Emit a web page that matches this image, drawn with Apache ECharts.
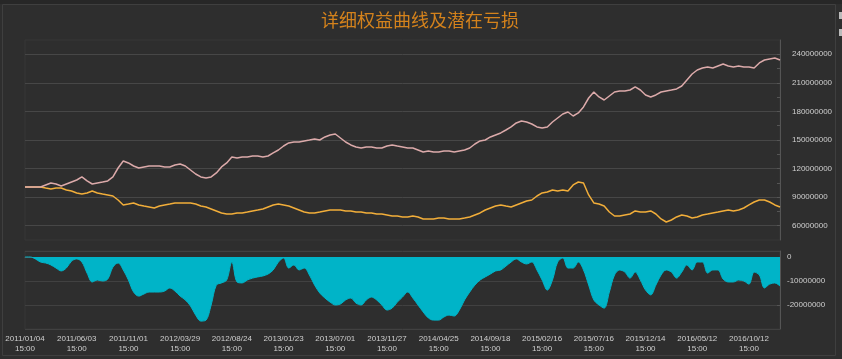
<!DOCTYPE html>
<html>
<head>
<meta charset="utf-8">
<script src="https://cdn.jsdelivr.net/npm/echarts@6/dist/echarts.min.js"></script>
<style>html,body{margin:0;padding:0;background:#2e2e2e;}#c{width:842px;height:359px;}</style>
</head>
<body>
<div id="c"></div>
<script>
// Labeled trading dates (every 10th sample point)
const labelDates = ['2011/01/04','2011/06/03','2011/11/01','2012/03/29','2012/08/24','2013/01/23','2013/07/01','2013/11/27','2014/04/25','2014/09/18','2015/02/16','2015/07/16','2015/12/14','2016/05/12','2016/10/12'];

// Equity (millions)
const equity = [
100.7,100.7,100.7,100.7,102.8,104.9,103.8,101.7,103.8,105.9,
108.0,111.2,107.0,103.8,104.9,105.9,107.0,111.2,120.6,128.0,
125.9,122.7,120.6,121.7,122.7,122.7,122.7,121.7,121.7,123.8,
124.8,122.7,118.5,114.3,111.2,110.1,111.2,115.4,121.7,125.9,
132.2,131.1,132.2,132.2,133.2,133.2,132.2,133.2,136.4,139.5,
143.7,146.9,147.9,147.9,149.0,150.0,151.1,150.0,153.2,155.3,
156.3,152.1,147.9,144.8,142.7,141.6,142.7,142.7,141.6,141.6,
143.7,144.8,143.7,142.7,141.6,141.6,139.5,137.4,138.5,137.4,
137.4,138.5,138.5,137.4,138.5,139.5,141.6,145.8,149.0,150.0,
153.2,155.3,157.4,160.5,163.7,167.9,170.0,168.9,166.8,163.7,
162.6,163.7,168.9,173.1,177.3,179.4,175.2,178.4,184.7,194.1,
200.4,195.2,192.0,196.2,200.4,201.5,201.5,202.5,205.7,202.5,
197.3,195.2,197.3,200.4,201.5,202.5,203.6,206.7,213.0,219.3,
223.5,225.6,226.7,225.6,227.7,229.8,227.7,226.7,227.7,226.7,
226.7,225.6,230.9,234.0,235.1,236.1,234.0
];

// Second (orange) curve (millions)
const benchmark = [
100.7,100.7,100.7,100.7,99.6,98.6,99.6,99.6,97.5,96.5,
94.4,93.3,94.4,96.5,94.4,93.3,92.3,91.2,87.0,81.8,
82.8,83.9,81.8,80.7,79.7,78.6,80.7,81.8,82.8,83.9,
83.9,83.9,83.9,82.8,80.7,79.7,77.6,75.5,73.4,72.3,
72.3,73.4,73.4,74.4,75.5,76.5,77.6,79.7,81.8,82.8,
81.8,80.7,78.6,76.5,74.4,73.4,73.4,74.4,75.5,76.5,
76.5,76.5,75.5,75.5,74.4,74.4,73.4,73.4,72.3,72.3,
71.3,70.2,70.2,69.2,69.2,70.2,69.2,67.1,67.1,67.1,
68.1,68.1,67.1,67.1,67.1,68.1,69.2,71.3,73.4,76.5,
78.6,80.7,81.8,80.7,79.7,81.8,83.9,86.0,87.0,91.2,
94.4,95.4,97.5,96.5,97.5,96.5,102.8,105.9,104.9,92.3,
83.9,82.8,80.7,74.4,70.2,70.2,71.3,72.3,75.5,74.4,
74.4,75.5,72.3,67.1,63.9,66.0,69.2,71.3,70.2,68.1,
69.2,71.3,72.3,73.4,74.4,75.5,76.5,75.5,76.5,78.6,
81.8,84.9,87.0,87.0,84.9,81.8,79.7
];

// Potential loss (millions)
const loss = [
0,0,-0.8,-2.1,-2.5,-3.3,-4.6,-5.8,-4.6,-1.7,
-0.8,-2.1,-6.7,-10.4,-9.6,-10.0,-9.2,-4.2,-2.5,-5.4,
-9.6,-14.6,-16.3,-15.4,-14.6,-14.6,-14.6,-14.2,-12.9,-14.2,
-16.3,-17.9,-20.4,-24.2,-26.7,-26.3,-20.0,-11.7,-10.8,-9.6,
-2.1,-10.4,-10.8,-9.6,-8.8,-8.3,-7.9,-7.1,-5.4,-2.1,
-0.4,-4.6,-3.3,-5.4,-4.6,-7.5,-11.7,-15.0,-17.1,-18.8,
-20.0,-19.6,-17.9,-17.1,-19.2,-20.0,-17.9,-16.7,-17.9,-20.0,
-22.1,-21.3,-18.8,-16.7,-14.6,-17.1,-20.0,-22.9,-25.4,-26.3,
-26.3,-25.0,-24.2,-24.6,-22.1,-17.9,-14.6,-11.7,-9.6,-8.3,
-7.1,-5.8,-5.4,-3.8,-2.1,-0.8,-2.1,-2.9,-2.1,-5.4,
-9.6,-13.8,-9.6,-2.1,-0.4,-4.6,-4.6,-2.1,-5.4,-11.7,
-17.9,-20.0,-21.3,-14.6,-7.5,-5.4,-6.3,-8.8,-6.3,-9.6,
-13.8,-15.8,-11.7,-7.5,-5.4,-6.3,-8.8,-6.3,-3.3,-5.4,
-2.1,-2.1,-6.7,-5.4,-5.4,-9.2,-10.4,-10.4,-9.6,-10.0,
-11.3,-6.3,-7.5,-12.9,-11.3,-10.8,-12.1
];

const MILLION = 1e6;
const N = equity.length;
const categories = [];
for (let i = 0; i < N; i++) {
  const seg = Math.floor(i / 10);
  categories.push(i % 10 === 0 ? labelDates[seg] : labelDates[seg] + '#' + (i % 10));
}

const labelFont = "'Liberation Sans',sans-serif";
const labelColor = '#cfcfcf';

const chart = echarts.init(document.getElementById('c'), null, {renderer: 'canvas'});
chart.setOption({
  backgroundColor: '#2e2e2e',
  animation: false,
  title: {
    text: '详细权益曲线及潜在亏损',
    left: 316,
    top: 6,
    textStyle: {color: '#d4821c', fontSize: 18, fontWeight: 'normal', fontFamily: "'Noto Sans CJK SC',sans-serif"}
  },
  graphic: [
    {type: 'rect', shape: {x: 0, y: 0, width: 842, height: 4}, style: {fill: '#272727'}, z: -1},
    {type: 'rect', shape: {x: 2.5, y: 4.5, width: 833, height: 351}, style: {fill: 'none', stroke: '#3f3f3f', lineWidth: 1}, z: -1},
    {type: 'rect', shape: {x: 839, y: 12, width: 8, height: 7}, style: {fill: '#bbbbbb'}},
    {type: 'rect', shape: {x: 839, y: 29, width: 8, height: 7}, style: {fill: '#bbbbbb'}}
  ],
  grid: [
    {left: 25, right: 62, top: 40, height: 200, show: true, borderColor: '#363636', borderWidth: 1, backgroundColor: 'transparent'},
    {left: 25, right: 62, top: 251, height: 78, show: true, borderColor: '#363636', borderWidth: 1, backgroundColor: 'transparent'}
  ],
  xAxis: [
    {type: 'category', gridIndex: 0, data: categories, boundaryGap: false,
     axisLine: {show: false}, axisTick: {show: false}, axisLabel: {show: false}, splitLine: {show: false}},
    {type: 'category', gridIndex: 1, data: categories, boundaryGap: false,
     axisLine: {show: true, lineStyle: {color: '#555555'}}, axisTick: {show: false},
     axisLabel: {interval: 9, margin: 5, color: labelColor, fontSize: 8, lineHeight: 10, fontFamily: labelFont,
       formatter: v => v.indexOf('#') >= 0 ? '' : v + '\n15:00'},
     splitLine: {show: false}}
  ],
  yAxis: [
    {type: 'value', gridIndex: 0, position: 'right', min: 45 * MILLION, max: 255 * MILLION, interval: 15 * MILLION,
     axisLine: {show: true, lineStyle: {color: '#555555'}},
     axisTick: {show: true, length: 3, inside: true, lineStyle: {color: '#555555'}},
     axisLabel: {margin: 12, color: labelColor, fontSize: 8, fontFamily: labelFont, showMinLabel: false, showMaxLabel: false,
       formatter: v => (Math.round(v) % (30 * MILLION) === 0 ? String(Math.round(v)) : '')},
     splitLine: {show: true, lineStyle: {color: ['rgba(0,0,0,0)', '#474747'], width: 1}}},
    {type: 'value', gridIndex: 1, position: 'right', min: -30 * MILLION, max: 2.5 * MILLION, interval: 10 * MILLION,
     axisLine: {show: true, lineStyle: {color: '#555555'}},
     axisTick: {show: true, length: 3, inside: true, lineStyle: {color: '#555555'}},
     axisLabel: {margin: 7, color: labelColor, fontSize: 8, fontFamily: labelFont, showMinLabel: false, showMaxLabel: false,
       formatter: v => String(Math.round(v))},
     splitLine: {show: true, lineStyle: {color: '#414141', width: 1}}}
  ],
  series: [
    {name: '权益', type: 'line', xAxisIndex: 0, yAxisIndex: 0, data: equity.map(v => v * MILLION),
     symbol: 'none', lineStyle: {color: '#dcaaaa', width: 1.5}, itemStyle: {color: '#dcaaaa'}, z: 3},
    {name: '基准', type: 'line', xAxisIndex: 0, yAxisIndex: 0, data: benchmark.map(v => v * MILLION),
     symbol: 'none', lineStyle: {color: '#f2ae3a', width: 1.5}, itemStyle: {color: '#f2ae3a'}, z: 2},
    {name: '潜在亏损', type: 'line', xAxisIndex: 1, yAxisIndex: 1, data: loss.map(v => v * MILLION),
     symbol: 'none', smooth: 0.35, lineStyle: {color: '#00b4c8', width: 1}, itemStyle: {color: '#00b4c8'},
     areaStyle: {color: '#00b4c8', opacity: 1}}
  ]
});
</script>
</body>
</html>
